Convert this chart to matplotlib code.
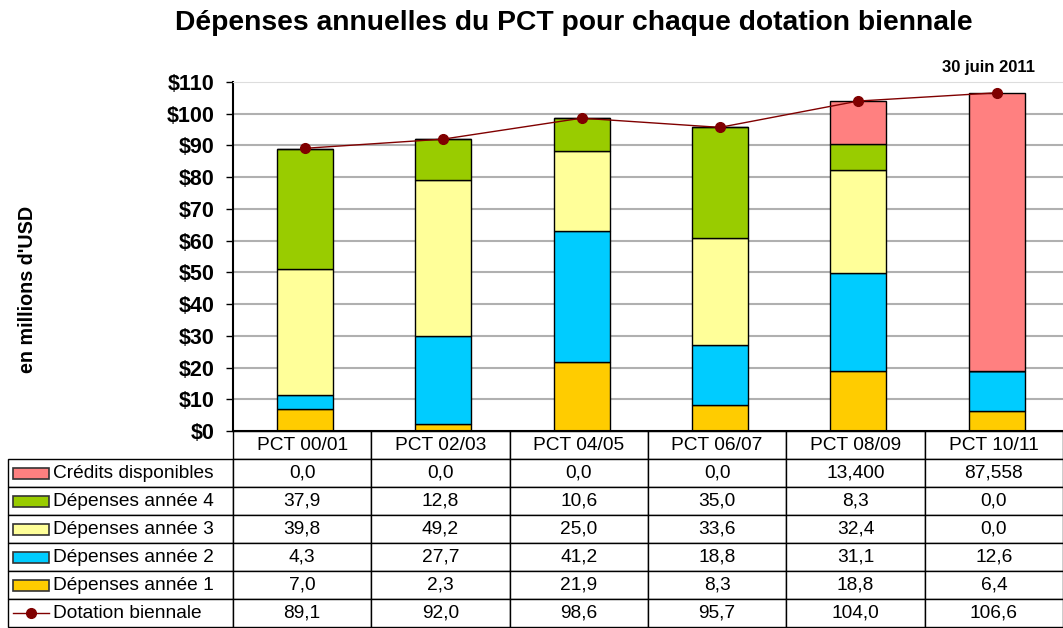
import matplotlib

matplotlib.use("Agg")

import matplotlib.pyplot as plt
import numpy as np
from matplotlib.lines import Line2D
from matplotlib.patches import Rectangle

plt.rcParams["font.family"] = ["Liberation Sans", "DejaVu Sans"]

# data
periods = ["PCT 00/01", "PCT 02/03", "PCT 04/05", "PCT 06/07", "PCT 08/09", "PCT 10/11"]
annee1 = [7.0, 2.3, 21.9, 8.3, 18.8, 6.4]
annee2 = [4.3, 27.7, 41.2, 18.8, 31.1, 12.6]
annee3 = [39.8, 49.2, 25.0, 33.6, 32.4, 0.0]
annee4 = [37.9, 12.8, 10.6, 35.0, 8.3, 0.0]
credits = [0.0, 0.0, 0.0, 0.0, 13.4, 87.558]
credits_labels = ["0,0", "0,0", "0,0", "0,0", "13,400", "87,558"]
dotation = [89.1, 92.0, 98.6, 95.7, 104.0, 106.6]
yticks = [0, 10, 20, 30, 40, 50, 60, 70, 80, 90, 100, 110]

row_names = ["Crédits disponibles", "Dépenses année 4", "Dépenses année 3",
             "Dépenses année 2", "Dépenses année 1", "Dotation biennale"]

c_credits = "#FF8080"
c_a4 = "#99CC00"
c_a3 = "#FFFF99"
c_a2 = "#00CCFF"
c_a1 = "#FFCC00"
c_line = "#800000"


def fmt(v):
    return f"{v:.1f}".replace(".", ",")


W, H = 1063, 628
fig = plt.figure(figsize=(W / 100, H / 100), dpi=100)

ax_l, ax_r, ax_t, ax_b = 233, 1063, 82, 431
ax = fig.add_axes([ax_l / W, 1 - ax_b / H, (ax_r - ax_l) / W, (ax_b - ax_t) / H])

x = np.arange(len(periods))
series = [(annee1, c_a1), (annee2, c_a2), (annee3, c_a3), (annee4, c_a4), (credits, c_credits)]
bottom = np.zeros(len(periods))
for vals, col in series:
    vals = np.array(vals)
    ax.bar(x + 0.02, vals, 0.405, bottom=bottom, color=col, edgecolor="black", linewidth=1, zorder=3)
    bottom += vals

ax.plot(x + 0.02, dotation, color=c_line, lw=1, marker="o", ms=7, zorder=4)

ax.set_xlim(-0.5, len(periods) - 0.5)
ax.set_ylim(0, 110)
ax.set_yticks(yticks)
ax.set_yticklabels([f"${t}" for t in yticks], fontsize=15.5, fontweight="bold")
ax.tick_params(axis="y", direction="out", length=5, width=1, pad=8)
ax.tick_params(axis="x", bottom=False, labelbottom=False)
for t in yticks[1:-1]:
    ax.axhline(t, color="#B0B0B0", lw=1.5, zorder=1)
ax.spines["top"].set_color("#DDDDDD")
ax.spines["right"].set_visible(False)
ax.spines["left"].set_linewidth(1.5)
ax.spines["bottom"].set_linewidth(1.5)
ax.spines["bottom"].set_zorder(5)

ax.text(5.3, 114.5, "30 juin 2011", ha="right", va="center", fontsize=12, fontweight="bold")

fig.text(574 / W, 1 - 23 / H, "Dépenses annuelles du PCT pour chaque dotation biennale",
         ha="center", va="center", fontsize=20.3, fontweight="bold")
fig.text(28 / W, 1 - 289 / H, "en millions d'USD", rotation=90, ha="center", va="center",
         fontsize=14.2, fontweight="bold")

# table under the bars
rows = [credits_labels, [fmt(v) for v in annee4], [fmt(v) for v in annee3],
        [fmt(v) for v in annee2], [fmt(v) for v in annee1], [fmt(v) for v in dotation]]
cell_text = [[name] + r for name, r in zip(row_names, rows)]
lab_w = ax_l - 8
col_w = (ax_r - ax_l) / len(periods)
widths = [lab_w] + [col_w] * len(periods)
tab_left = (8 - ax_l) / (ax_r - ax_l)
tab_w = (W - 8) / (ax_r - ax_l)
tab_h = (627 - ax_b) / (ax_b - ax_t)
table = ax.table(cellText=cell_text, colLabels=[""] + periods, colWidths=widths,
                 cellLoc="center", bbox=[tab_left, -tab_h, tab_w, tab_h])
table.auto_set_font_size(False)
table.set_fontsize(13.8)
for (r, c), cell in table.get_celld().items():
    cell.set_linewidth(1)
    cell.set_edgecolor("black")
    if r == 0 and c == 0:
        cell.visible_edges = ""
    elif c == 0:
        cell.get_text().set_ha("left")
        cell.PAD = 0.2

# legend keys in the label column
n_rows = len(row_names) + 1
row_h = tab_h / n_rows
key_x0 = tab_left + 5 / (ax_r - ax_l)
key_w = 36 / (ax_r - ax_l)
key_h = 11 / (ax_b - ax_t)
for i, col in enumerate([c_credits, c_a4, c_a3, c_a2, c_a1]):
    yc = -(i + 1.5) * row_h
    ax.add_patch(Rectangle((key_x0, yc - key_h / 2), key_w, key_h, transform=ax.transAxes,
                           facecolor=col, edgecolor="#333333", lw=1.2, clip_on=False, zorder=6))
yc = -(len(row_names) + 0.5) * row_h
ax.add_line(Line2D([key_x0, key_x0 + key_w], [yc, yc], transform=ax.transAxes, color=c_line,
                   lw=1, clip_on=False, zorder=6))
ax.add_line(Line2D([key_x0 + key_w / 2], [yc], transform=ax.transAxes, color=c_line, marker="o",
                   ms=7, clip_on=False, zorder=6))

fig.savefig("out.png", dpi=100)
